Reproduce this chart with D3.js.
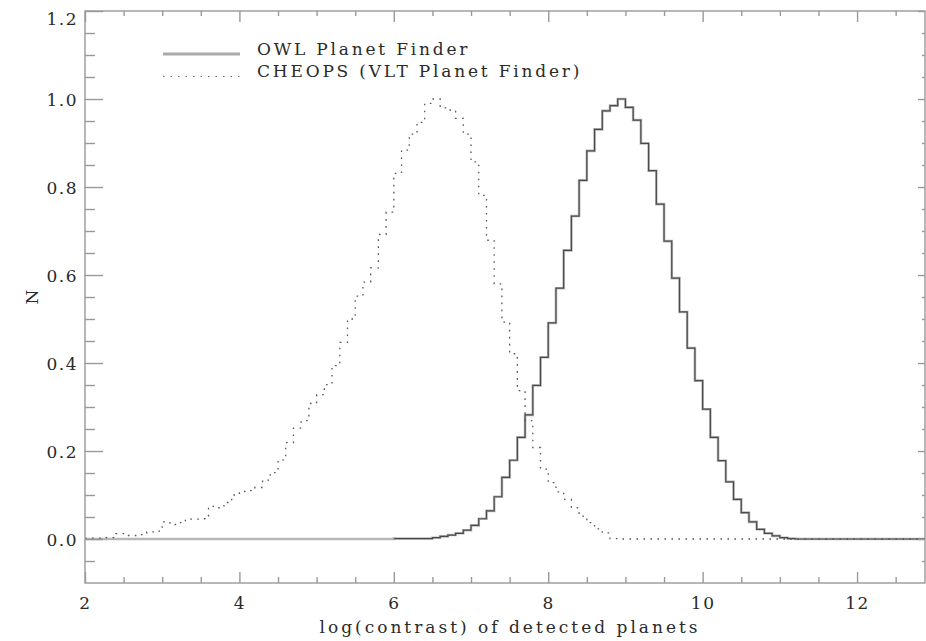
<!DOCTYPE html>
<html>
<head>
<meta charset="utf-8">
<script src="https://cdn.jsdelivr.net/npm/d3@7"></script>
<style>
  html, body { margin: 0; padding: 0; background: #fff; }
  svg text { font-family: "DejaVu Serif", serif; fill: #2a2a2a; }
</style>
</head>
<body>
<svg id="chart" width="926" height="641"></svg>
<script>
// ---- data ----
const binWidth = 0.1;
const xDomain = [2, 12.88];
const yDomain = [-0.1, 1.2];
const xTickValues = [2, 4, 6, 8, 10, 12];
const xTickLabels = ["2", "4", "6", "8", "10", "12"];
const yTickValues = [0.0, 0.2, 0.4, 0.6, 0.8, 1.0, 1.2];
const yTickLabels = ["0.0", "0.2", "0.4", "0.6", "0.8", "1.0", "1.2"];
const seriesNames = ["OWL Planet Finder", "CHEOPS (VLT Planet Finder)"];

// OWL Planet Finder histogram, bins of 0.1 starting at 6.0
const owlStart = 6.0;
const owlValues = [
  0.001, 0.001, 0.001, 0.001, 0.001, 0.003, 0.006, 0.009, 0.013, 0.020,
  0.031, 0.046, 0.064, 0.096, 0.140, 0.179, 0.231, 0.282, 0.349, 0.413,
  0.491, 0.570, 0.656, 0.734, 0.815, 0.882, 0.931, 0.973, 0.985, 1.000,
  0.981, 0.952, 0.899, 0.837, 0.761, 0.677, 0.593, 0.516, 0.434, 0.360,
  0.295, 0.231, 0.178, 0.130, 0.090, 0.060, 0.039, 0.022, 0.013, 0.007,
  0.003, 0.001
];

// CHEOPS (VLT Planet Finder) histogram, bins of 0.1 starting at 2.0
const cheopsStart = 2.0;
const cheopsValues = [
  0.002, 0.002, 0.003, 0.003, 0.012, 0.008, 0.008, 0.010, 0.016, 0.018,
  0.039, 0.033, 0.037, 0.045, 0.045, 0.046, 0.074, 0.071, 0.083, 0.100,
  0.108, 0.110, 0.117, 0.134, 0.151, 0.180, 0.219, 0.252, 0.269, 0.308,
  0.328, 0.351, 0.394, 0.447, 0.500, 0.552, 0.584, 0.616, 0.692, 0.743,
  0.831, 0.884, 0.920, 0.947, 0.990, 1.000, 0.980, 0.975, 0.956, 0.920,
  0.857, 0.781, 0.679, 0.580, 0.493, 0.421, 0.337, 0.269, 0.208, 0.159,
  0.128, 0.107, 0.090, 0.071, 0.052, 0.037, 0.023, 0.014, 0.001
];

// ---- layout ----
const svg = d3.select("#chart");
const pL = 85, pR = 925, pT = 11, pB = 583;
const x = d3.scaleLinear().domain(xDomain).range([pL, pR]);
const y = d3.scaleLinear().domain(yDomain).range([pB, pT]);
const axisColor = "#999";

svg.append("defs").append("clipPath").attr("id", "plotclip")
  .append("rect").attr("x", pL).attr("y", pT)
  .attr("width", pR - pL).attr("height", pB - pT);

// step points from bins
function binPoints(start, values) {
  const pts = values.map((v, i) => [start + i * binWidth, v]);
  pts.push([start + values.length * binWidth, 0]);
  return pts;
}
const line = d3.line().x(d => x(d[0])).y(d => y(d[1])).curve(d3.curveStepAfter);

const owlPts = [[xDomain[0], 0]].concat(binPoints(owlStart, owlValues), [[xDomain[1], 0]]);
const owlDark = binPoints(owlStart, owlValues).concat([[xDomain[1], 0]]);
const cheopsPts = binPoints(cheopsStart, cheopsValues).concat([[xDomain[1], 0]]);

const plot = svg.append("g").attr("clip-path", "url(#plotclip)");
plot.append("path").attr("d", line(owlPts))
  .attr("fill", "none").attr("stroke", "#b8b8b8").attr("stroke-width", 2.6);
plot.append("path").attr("d", line(owlDark))
  .attr("fill", "none").attr("stroke", "#4a4a4a").attr("stroke-width", 1.2);
plot.append("path").attr("d", line(cheopsPts))
  .attr("fill", "none").attr("stroke", "#555").attr("stroke-width", 1.3)
  .attr("stroke-dasharray", "1.6,5.4");

// ---- axes ----
function styleAxis(g) {
  g.select(".domain").remove();
  g.selectAll(".tick line").attr("stroke", axisColor).attr("stroke-width", 1.4);
  g.selectAll("text").attr("fill", "#2a2a2a")
    .style("font-family", '"DejaVu Serif", serif').style("font-size", "17px")
    .style("letter-spacing", "1.5px");
}
const xMinor = d3.range(2, 12.9, 0.5).filter(v => Math.abs(v / 2 - Math.round(v / 2)) > 1e-6);
const yMinor = d3.range(-0.05, 1.2, 0.05).filter(v => Math.abs(v / 0.2 - Math.round(v / 0.2)) > 1e-6);

// bottom
svg.append("g").attr("transform", `translate(0,${pB})`)
  .call(d3.axisBottom(x).tickValues(xTickValues).tickSize(-11).tickPadding(14)
    .tickFormat((d, i) => xTickLabels[i]))
  .call(styleAxis);
svg.append("g").attr("transform", `translate(0,${pB})`)
  .call(d3.axisBottom(x).tickValues(xMinor).tickSize(-6).tickFormat(""))
  .call(styleAxis);
// top
svg.append("g").attr("transform", `translate(0,${pT})`)
  .call(d3.axisTop(x).tickValues(xTickValues).tickSize(-11).tickFormat(""))
  .call(styleAxis);
svg.append("g").attr("transform", `translate(0,${pT})`)
  .call(d3.axisTop(x).tickValues(xMinor).tickSize(-5).tickFormat(""))
  .call(styleAxis);
// left
const leftAxis = svg.append("g").attr("transform", `translate(${pL},0)`)
  .call(d3.axisLeft(y).tickValues(yTickValues).tickSize(-18).tickPadding(7)
    .tickFormat((d, i) => yTickLabels[i]))
  .call(styleAxis);
leftAxis.selectAll(".tick text").attr("dy", "0.4em")
  .filter(d => d === 1.2).attr("dy", "0.8em");
svg.append("g").attr("transform", `translate(${pL},0)`)
  .call(d3.axisLeft(y).tickValues(yMinor).tickSize(-10).tickFormat(""))
  .call(styleAxis);
// right
svg.append("g").attr("transform", `translate(${pR},0)`)
  .call(d3.axisRight(y).tickValues(yTickValues).tickSize(-7).tickFormat(""))
  .call(styleAxis);
svg.append("g").attr("transform", `translate(${pR},0)`)
  .call(d3.axisRight(y).tickValues(yMinor).tickSize(-3).tickFormat(""))
  .call(styleAxis);

// frame
svg.append("rect").attr("x", pL).attr("y", pT)
  .attr("width", pR - pL).attr("height", pB - pT)
  .attr("fill", "none").attr("stroke", axisColor).attr("stroke-width", 1.4);

// axis titles
svg.append("text").attr("x", 510).attr("y", 633).attr("text-anchor", "middle")
  .style("font-size", "17px").style("letter-spacing", "3px")
  .text("log(contrast) of detected planets");
svg.append("text").attr("transform", "translate(38,297) rotate(-90)")
  .attr("text-anchor", "middle").style("font-size", "17px")
  .text("N");

// ---- legend ----
const legend = svg.append("g");
legend.append("line").attr("x1", 163).attr("x2", 240).attr("y1", 54).attr("y2", 54)
  .attr("stroke", "#aaa").attr("stroke-width", 3);
legend.append("line").attr("x1", 163).attr("x2", 240).attr("y1", 76.5).attr("y2", 76.5)
  .attr("stroke", "#666").attr("stroke-width", 1.2).attr("stroke-dasharray", "1.5,6");
legend.append("text").attr("x", 257).attr("y", 55)
  .style("font-size", "17px").style("letter-spacing", "2.8px").text(seriesNames[0]);
legend.append("text").attr("x", 257).attr("y", 77)
  .style("font-size", "17px").style("letter-spacing", "2.8px").text(seriesNames[1]);
</script>
</body>
</html>
